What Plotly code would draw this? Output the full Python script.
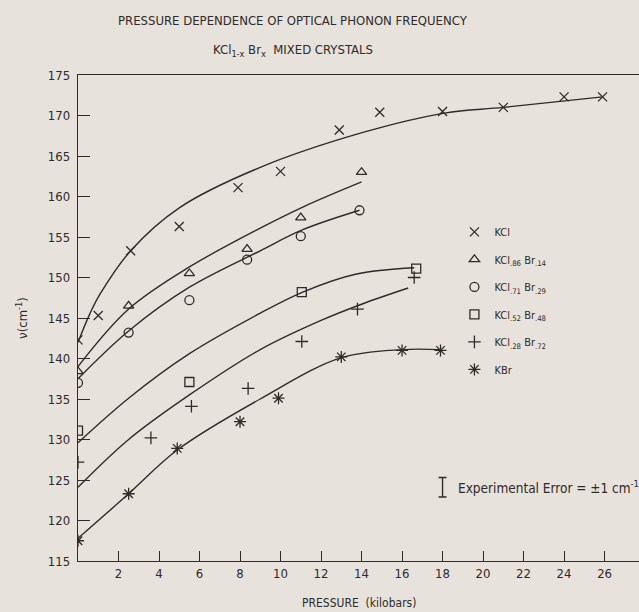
import plotly.graph_objects as go

# ---------------- data ----------------
# measured points: pressure (kbar) and frequency (cm^-1)
kcl_p = [0, 1.0, 2.6, 5.0, 7.9, 10.0, 12.9, 14.9, 18.0, 21.0, 24.0, 25.9]
kcl_v = [142.3, 145.3, 153.3, 156.3, 161.1, 163.1, 168.2, 170.4, 170.5, 171.0, 172.3, 172.3]

kcl86_p = [0, 2.5, 5.5, 8.35, 11.0, 14.0]
kcl86_v = [138.4, 146.5, 150.5, 153.5, 157.4, 163.0]

kcl71_p = [0, 2.5, 5.5, 8.35, 11.0, 13.9]
kcl71_v = [137.0, 143.2, 147.2, 152.2, 155.1, 158.3]

kcl52_p = [0, 5.5, 11.05, 16.7]
kcl52_v = [131.1, 137.1, 148.2, 151.1]

kcl28_p = [0, 3.6, 5.6, 8.4, 11.05, 13.8, 16.6]
kcl28_v = [127.2, 130.2, 134.1, 136.3, 142.1, 146.1, 150.0]

kbr_p = [0, 2.5, 4.9, 8.0, 9.9, 13.0, 16.0, 17.9]
kbr_v = [117.5, 123.3, 128.9, 132.2, 135.1, 140.2, 141.0, 141.0]

# hand-drawn fit curves
kcl_fit_p = [0, 0.6, 1.1, 2.6, 5.0, 9.0, 14.2, 18.1, 21.0, 25.9]
kcl_fit_v = [142.0, 145.6, 148.0, 153.3, 158.6, 163.6, 168.0, 170.3, 171.0, 172.3]

kcl86_fit_p = [0, 2.5, 5.5, 9.0, 11.1, 14.0]
kcl86_fit_v = [139.0, 146.1, 151.3, 156.1, 158.7, 161.8]

kcl71_fit_p = [0, 2.5, 5.5, 9.0, 11.1, 13.9]
kcl71_fit_v = [137.5, 143.4, 148.8, 153.3, 155.9, 158.3]

kcl52_fit_p = [0, 2.5, 5.5, 9.0, 11.1, 13.7, 16.6]
kcl52_fit_v = [129.6, 135.1, 140.6, 145.6, 148.2, 150.4, 151.2]

kcl28_fit_p = [0, 2.5, 5.5, 9.0, 12.0, 14.0, 16.3]
kcl28_fit_v = [124.1, 130.0, 135.5, 141.1, 144.7, 146.7, 148.7]

kbr_fit_p = [0, 2.5, 4.9, 9.0, 13.0, 16.0, 17.9]
kbr_fit_v = [117.8, 123.3, 128.7, 135.0, 140.1, 141.1, 141.1]

# experimental error indicator
err_p = [18.0]
err_v = [124.1]
err_half = [1.2]

x_ticks = [2, 4, 6, 8, 10, 12, 14, 16, 18, 20, 22, 24, 26]
y_ticks = [115, 120, 125, 130, 135, 140, 145, 150, 155, 160, 165, 170, 175]

series_names = [
    "KCl",
    "KCl<sub>.86</sub> Br<sub>.14</sub>",
    "KCl<sub>.71</sub> Br<sub>.29</sub>",
    "KCl<sub>.52</sub> Br<sub>.48</sub>",
    "KCl<sub>.28</sub> Br<sub>.72</sub>",
    "KBr",
]

# ---------------- styling ----------------
INK = "#2f2b29"
BG = "#e7e2dc"
FONT = "DejaVu Sans Condensed, Liberation Sans Narrow, DejaVu Sans, sans-serif"

fig = go.Figure()

fits = [
    (kcl_fit_p, kcl_fit_v), (kcl86_fit_p, kcl86_fit_v), (kcl71_fit_p, kcl71_fit_v),
    (kcl52_fit_p, kcl52_fit_v), (kcl28_fit_p, kcl28_fit_v), (kbr_fit_p, kbr_fit_v),
]
for fp, fv in fits:
    fig.add_trace(go.Scatter(
        x=fp, y=fv, mode="lines", showlegend=False, hoverinfo="skip",
        line=dict(color=INK, width=1.4, shape="spline", smoothing=1.0),
    ))

points = [
    (kcl_p, kcl_v, "x-thin-open", 9),
    (kcl86_p, kcl86_v, "triangle-up-open", 9),
    (kcl71_p, kcl71_v, "circle-open", 9),
    (kcl52_p, kcl52_v, "square-open", 9),
    (kcl28_p, kcl28_v, "cross-thin-open", 9),
    (kbr_p, kbr_v, "asterisk-open", 10),
]
for i, ((pp, pv, sym, sz), name) in enumerate(zip(points, series_names)):
    fig.add_trace(go.Scatter(
        x=pp, y=pv, mode="markers", name=name, legendgroup=f"g{i}",
        marker=dict(symbol=sym, size=sz, color=INK, line=dict(color=INK, width=1.3)),
    ))

fig.add_trace(go.Scatter(
    x=err_p, y=err_v, mode="markers", showlegend=False, hoverinfo="skip",
    marker=dict(size=1, color="rgba(0,0,0,0)"),
    error_y=dict(type="data", array=err_half, color=INK, thickness=1.4, width=4),
))

fig.update_layout(
    width=639, height=612,
    margin=dict(l=78, r=0, t=75, b=51),
    paper_bgcolor=BG, plot_bgcolor=BG,
    font=dict(family=FONT, color=INK, size=12),
    showlegend=True,
    legend=dict(
        x=0.671, y=0.707, xanchor="left", yanchor="top",
        bgcolor="rgba(0,0,0,0)", font=dict(size=11, family=FONT, color=INK),
        tracegroupgap=8.5, itemwidth=30,
    ),
    xaxis=dict(
        range=[0, 27.7], tickvals=x_ticks, ticks="inside", ticklen=10, tickwidth=1.2,
        tickcolor=INK, showline=True, linecolor=INK, linewidth=1.4, mirror=True,
        showgrid=False, zeroline=False, tickfont=dict(size=13, family=FONT),
    ),
    yaxis=dict(
        range=[115, 175], tickvals=y_ticks, ticks="inside", ticklen=12, tickwidth=1.2,
        tickcolor=INK, showline=True, linecolor=INK, linewidth=1.4, mirror=False,
        showgrid=False, zeroline=False, tickfont=dict(size=13, family=FONT),
        ticklabelstandoff=4,
    ),
    annotations=[
        dict(text="PRESSURE DEPENDENCE OF OPTICAL PHONON FREQUENCY", xref="paper", yref="paper",
             x=0.383, y=1.113, xanchor="center", yanchor="middle", showarrow=False,
             font=dict(size=13, family=FONT)),
        dict(text="KCl<sub>1-x</sub> Br<sub>x</sub>  MIXED CRYSTALS", xref="paper", yref="paper",
             x=0.383, y=1.051, xanchor="center", yanchor="middle", showarrow=False,
             font=dict(size=13, family=FONT)),
        dict(text="PRESSURE  (kilobars)", xref="paper", yref="paper",
             x=0.5, y=-0.086, xanchor="center", yanchor="middle", showarrow=False,
             font=dict(size=12, family=FONT)),
        dict(text="ν(cm<sup>-1</sup>)", xref="paper", yref="paper", textangle=-90,
             x=-0.10, y=0.50, xanchor="center", yanchor="middle", showarrow=False,
             font=dict(size=13, family=FONT)),
        dict(text="Experimental Error = ±1 cm<sup>-1</sup>", xref="x", yref="y",
             x=18.65, y=124.1, xanchor="left", yanchor="middle", showarrow=False,
             font=dict(size=13.5, family=FONT)),
    ],
)

fig.write_html("out.html", config={"displayModeBar": False},
               post_script="document.body.style.margin='0px';")
